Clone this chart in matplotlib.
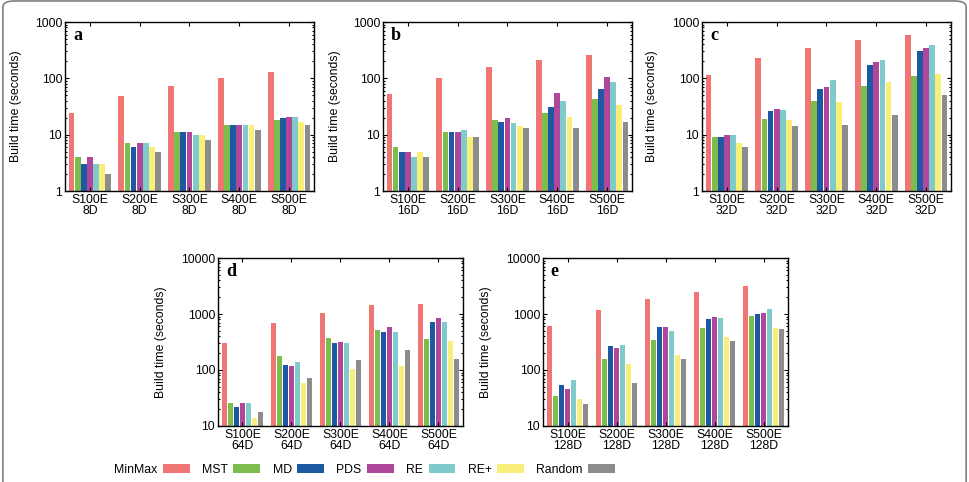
import numpy as np
import matplotlib
matplotlib.use("Agg")
import matplotlib.pyplot as plt
from matplotlib.patches import FancyBboxPatch
from matplotlib.ticker import LogLocator, NullFormatter, FixedLocator

plt.rcParams['font.family'] = ['Liberation Sans', 'DejaVu Sans']

methods = ['MinMax', 'MST', 'MD', 'PDS', 'RE', 'RE+', 'Random']
colors = ['#ef7675', '#7cbd4c', '#1d58a3', '#b0479a', '#7fcbcb', '#f8ee7a', '#8c8c8c']
sizes = ['S100E', 'S200E', 'S300E', 'S400E', 'S500E']

# build times (seconds), rows follow `methods`, columns follow `sizes`
time_8d = [
    [24, 48, 72, 100, 128],
    [4, 7, 11, 15, 18],
    [3, 6, 11, 15, 20],
    [4, 7, 11, 15, 21],
    [3, 7, 10, 15, 21],
    [3, 6, 10, 15, 17],
    [2, 5, 8, 12, 15],
]
time_16d = [
    [52, 103, 158, 210, 260],
    [6, 11, 18, 24, 43],
    [5, 11, 17, 31, 64],
    [5, 11, 20, 54, 104],
    [4, 12, 16, 39, 86],
    [5, 9, 14, 21, 34],
    [4, 9, 13, 13, 17],
]
time_32d = [
    [114, 230, 340, 470, 580],
    [9, 19, 40, 73, 110],
    [9, 26, 66, 170, 300],
    [10, 28, 70, 195, 345],
    [10, 27, 92, 210, 385],
    [7, 18, 38, 86, 118],
    [6, 14, 15, 22, 51],
]
time_64d = [
    [300, 680, 1050, 1450, 1530],
    [26, 175, 380, 510, 365],
    [22, 122, 305, 470, 730],
    [26, 120, 320, 580, 850],
    [26, 137, 300, 470, 730],
    [14, 58, 105, 120, 325],
    [18, 72, 152, 225, 160],
]
time_128d = [
    [600, 1200, 1870, 2450, 3200],
    [34, 160, 340, 560, 940],
    [54, 270, 590, 810, 980],
    [46, 245, 580, 900, 1050],
    [66, 280, 490, 860, 1250],
    [30, 128, 182, 390, 570],
    [25, 58, 160, 325, 530],
]

panels = [
    ('a', '8D', time_8d, (1, 1000), [0.067, 0.6037, 0.2567, 0.3506], -0.173),
    ('b', '16D', time_16d, (1, 1000), [0.3948, 0.6037, 0.2567, 0.3506], -0.168),
    ('c', '32D', time_32d, (1, 1000), [0.7237, 0.6037, 0.2567, 0.3506], -0.177),
    ('d', '64D', time_64d, (10, 10000), [0.2247, 0.1162, 0.2526, 0.3485], -0.208),
    ('e', '128D', time_128d, (10, 10000), [0.5598, 0.1162, 0.2526, 0.3485], -0.208),
]

fig = plt.figure(figsize=(9.7, 4.82), dpi=100)

# rounded frame around the figure (bottom runs off the image)
frame = FancyBboxPatch((0.003, -0.1), 0.993, 1.098, boxstyle="round,pad=0,rounding_size=0.012",
                       transform=fig.transFigure, fill=False, edgecolor='#808080', linewidth=1.2)
fig.patches.append(frame)

x = np.arange(len(sizes))
step = 0.123
width = 0.116
offsets = (np.arange(len(methods)) - 3) * step

for letter, dim, data, ylim, rect, ylab_x in panels:
    ax = fig.add_axes(rect)
    for i, (m, c) in enumerate(zip(methods, colors)):
        ax.bar(x + offsets[i], data[i], width=width, color=c, label=m, linewidth=0)
    ax.set_yscale('log')
    ax.set_ylim(*ylim)
    ax.set_xlim(-0.5, len(sizes) - 0.5)
    ax.xaxis.set_major_locator(FixedLocator(x))
    ax.set_xticklabels([f'{s}\n{dim}' for s in sizes], fontsize=8.8, linespacing=0.95)
    ax.yaxis.set_major_locator(LogLocator(base=10))
    ax.yaxis.set_minor_locator(LogLocator(base=10, subs=np.arange(2, 10)))
    ax.yaxis.set_minor_formatter(NullFormatter())
    ax.set_yticklabels([f'{int(v)}' for v in ax.get_yticks()])
    ax.set_ylim(*ylim)
    ax.tick_params(axis='both', which='both', direction='in', top=True, right=True,
                   labelsize=8.8, pad=2, width=0.8)
    ax.tick_params(axis='both', which='major', length=3)
    ax.tick_params(axis='y', which='minor', length=1.5)
    for sp in ax.spines.values():
        sp.set_linewidth(1.0)
    ax.set_ylabel('Build time (seconds)', fontsize=8.8)
    ax.yaxis.set_label_coords(ylab_x, 0.5)
    ax.text(0.032, 0.893, letter, transform=ax.transAxes, fontsize=13, fontweight='bold',
            family=['Liberation Serif', 'DejaVu Serif'], va='baseline', ha='left')
    if letter == 'a':
        handles, labels = ax.get_legend_handles_labels()

fig.legend(handles, labels, loc='center', bbox_to_anchor=(0.376, 0.025), ncol=7,
           frameon=False, fontsize=8.8, markerfirst=False, handlelength=2.2,
           handleheight=0.8, handletextpad=0.45, columnspacing=1.0)

fig.savefig('out.png', dpi=100)
